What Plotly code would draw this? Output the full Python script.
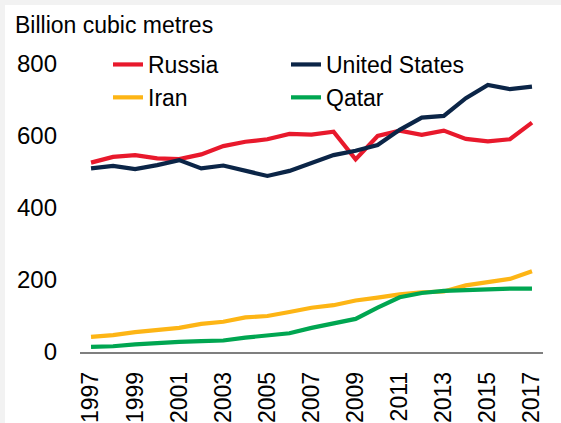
import plotly.graph_objects as go

years = list(range(1997, 2018))
russia = [526, 542, 547, 538, 536, 549, 572, 584, 591, 606, 604, 612, 535, 600, 615, 603, 615, 592, 585, 591, 637]
united_states = [510, 517, 508, 519, 533, 510, 518, 503, 489, 503, 524, 547, 559, 575, 617, 651, 656, 705, 742, 730, 737]
iran = [42, 47, 55, 61, 67, 78, 84, 96, 100, 111, 123, 130, 143, 151, 160, 166, 168, 185, 193, 203, 224]
qatar = [14, 16, 21, 25, 28, 30, 32, 40, 47, 52, 67, 80, 92, 123, 152, 164, 170, 172, 175, 176, 176]

series = [
    ("Russia", russia, "#E8192C"),
    ("United States", united_states, "#0B2547"),
    ("Iran", iran, "#FDB515"),
    ("Qatar", qatar, "#00A651"),
]

FONT = "Liberation Sans, Arial, sans-serif"
W, H = 561, 423
ML, MR, MT, MB = 80, 18, 64, 71
PW = W - ML - MR
PH = H - MT - MB

def px_x(p):
    return (p - ML) / PW

def px_y(p):
    return (H - MB - p) / PH

fig = go.Figure()
for name, vals, color in series:
    fig.add_trace(go.Scatter(
        x=years, y=vals, name=name, mode="lines",
        line=dict(color=color, width=4.2),
    ))

fig.update_layout(
    width=W, height=H,
    margin=dict(l=ML, r=MR, t=MT, b=MB, autoexpand=False),
    paper_bgcolor="#F2F2F2",
    plot_bgcolor="white",
    font=dict(family=FONT, size=23, color="black"),
    showlegend=True,
    legend=dict(
        orientation="h",
        x=px_x(108), y=px_y(43), xanchor="left", yanchor="top",
        entrywidth=133, entrywidthmode="pixels",
        font=dict(size=23, family=FONT),
        bgcolor="rgba(0,0,0,0)",
        tracegroupgap=0,
        itemwidth=30,
    ),
    xaxis=dict(
        range=[1996.5, 2017.5],
        tickmode="array",
        tickvals=list(range(1997, 2018, 2)),
        ticktext=[str(y) for y in range(1997, 2018, 2)],
        tickangle=-90,
        showgrid=False, zeroline=False,
        showline=True, linecolor="#7F7F7F", linewidth=1.5,
        ticks="", ticklabelstandoff=9,
        automargin=False,
        tickfont=dict(size=23, family=FONT),
    ),
    yaxis=dict(
        range=[0, 800],
        tickvals=[0, 200, 400, 600, 800],
        showgrid=False, zeroline=False, showline=False,
        ticks="", ticklabelstandoff=22,
        automargin=False,
        tickfont=dict(size=24, family=FONT),
    ),
    shapes=[dict(
        type="rect", xref="paper", yref="paper",
        x0=px_x(5), x1=px_x(W + 5), y0=px_y(H + 5), y1=px_y(5),
        fillcolor="white", line=dict(width=0), layer="below",
    )],
    annotations=[dict(
        text="Billion cubic metres", xref="paper", yref="paper",
        x=px_x(13), y=px_y(10), xanchor="left", yanchor="top",
        showarrow=False, font=dict(size=23, family=FONT),
    )],
)

fig.write_html(
    "out.html",
    config={"displayModeBar": False},
    post_script="document.body.style.margin='0';document.body.style.overflow='hidden';",
)
